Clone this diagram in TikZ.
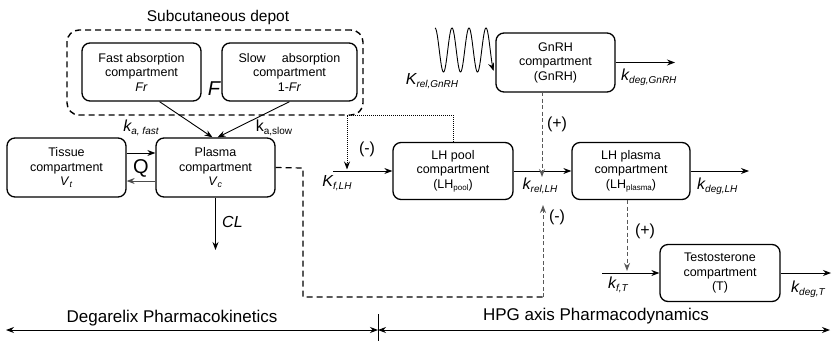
\documentclass[tikz,border=0pt]{standalone}
\usepackage{fontspec}
\setmainfont{Liberation Sans}
\usetikzlibrary{arrows.meta,calc}
\newcommand\klab[3][16]{{\fontsize{#1}{#1}\selectfont\itshape #2}\raisebox{-3pt}{\fontsize{10}{10}\selectfont\itshape #3}}
\begin{document}
\begin{tikzpicture}[x=1pt,y=-1pt,
  box/.style={draw, rounded corners=8pt, line width=1.3pt, align=center, inner sep=0pt,
    font=\fontsize{12.5}{14.5}\selectfont, minimum width=119pt, minimum height=58pt},
  arr/.style={-{Stealth[length=8pt,width=6pt]}, line width=0.9pt},
  dbl/.style={{Stealth[length=8pt,width=6pt]}-{Stealth[length=8pt,width=6pt]}, line width=0.9pt},
  lab/.style={inner sep=0pt},
  big/.style={inner sep=0pt, font=\fontsize{16}{16}\selectfont},
  title/.style={inner sep=0pt, font=\fontsize{17}{17}\selectfont},
  gdash/.style={draw=black!65, line width=1pt, dash pattern=on 4pt off 2.5pt},
  kdash/.style={line width=1.4pt, dash pattern=on 6pt off 4pt},
  dots/.style={line width=1pt, dash pattern=on 1pt off 1pt}
]
\useasboundingbox (0,0) rectangle (832,341);

% Subcutaneous depot
\node[draw, kdash, rounded corners=12pt, minimum width=296pt, minimum height=85pt, inner sep=0pt] (depot) at (215,72.5) {};
\node[inner sep=0pt, font=\fontsize{15.5}{15.5}\selectfont] (deptitle) at (218,17) {Subcutaneous depot};
\node[box] (fast) at (141.5,72) {Fast absorption\\compartment\\\textit{Fr}};
\node[box, minimum width=135pt] (slow) at (289.5,72) {Slow\hspace{1.3em}absorption\\compartment\\1-\textit{Fr}};
\node[inner sep=0pt, font=\fontsize{20}{20}\selectfont\itshape] (F) at (214,89) {F};

% PK compartments
\node[box, minimum height=59pt] (plasma) at (215.5,167.5) {Plasma\\compartment\\\textit{V}\textsubscript{\textit{c}}};
\node[box, minimum height=59pt] (tissue) at (66.5,167.5) {Tissue\\compartment\\\textit{V}\textsubscript{\textit{t}}};

\draw[arr] ($(fast.south)+(18,0)$) -- ($(plasma.north)+(-3,0)$);
\draw[arr] (slow.south) -- ($(plasma.north)+(2,0)$);
\node[lab] (kafast) at (141,128) {\klab{k}{a, fast}};
\node[lab] (kaslow) at (274,128) {{\fontsize{16}{16}\selectfont k}\raisebox{-3pt}{\fontsize{10}{10}\selectfont a,slow}};

\draw[arr] ($(tissue.east)+(0,-14.5)$) -- ($(plasma.west)+(0,-14.5)$);
\draw[arr, draw=black!70] ($(plasma.west)+(0,13.5)$) -- ($(tissue.east)+(0,13.5)$);
\node[inner sep=0pt, font=\fontsize{20}{20}\selectfont] (Q) at (141,168) {Q};

\coordinate (clend) at (215.5,250);
\draw[arr] (plasma.south) -- (clend);
\node[big, anchor=west, font=\fontsize{16}{16}\selectfont\itshape] (CL) at (222,222) {CL};

% GnRH
\node[box, minimum height=59pt] (gnrh) at (555.5,62.5) {GnRH\\compartment\\(GnRH)};
\draw[arr] plot[domain=0:3.45, samples=140, smooth] ({435+17*\x}, {50-22*cos(\x*360)});
\node[lab] (krelg) at (432,81) {\klab{K}{rel,GnRH}};
\coordinate (kdgend) at (675,62.5);
\draw[arr] (gnrh.east) -- (kdgend);
\node[lab, anchor=west] (kdegg) at (621,77) {\klab{k}{deg,GnRH}};

% LH row
\node[box, minimum width=120pt, minimum height=57pt] (pool) at (453,171) {LH pool\\compartment\\(LH{\fontsize{8}{8}\selectfont\raisebox{-2pt}{pool}})};
\node[box, minimum width=118pt, minimum height=57pt] (lhp) at (631,171) {LH plasma\\compartment\\(LH{\fontsize{8}{8}\selectfont\raisebox{-2pt}{plasma}})};
\coordinate (kfstart) at (333,171);
\draw[arr] (kfstart) -- (pool);
\node[lab] (kflh) at (337,183) {\klab{K}{f,LH}};
\draw[arr] (pool) -- (lhp);
\node[lab] (krellh) at (540,186) {\klab{k}{rel,LH}};
\coordinate (kdlend) at (749,171);
\draw[arr] (lhp.east) -- (kdlend);
\node[lab, anchor=west] (kdeglh) at (697,186) {\klab{k}{deg,LH}};

% feedback dotted
\coordinate (dtop) at (347,115);
\coordinate (dtip) at (347,169.5);
\draw[dots, -{Stealth[length=8pt,width=6pt]}] (pool.north) |- (dtop) -- (dtip);
\node[big] (m1) at (367,149) {(-)};

% GnRH (+) to k_rel
\coordinate (g1) at (542,92);
\coordinate (g2) at (542,177);
\draw[gdash, -{Stealth[length=8pt,width=6pt]}] (g1) -- (g2);
\node[big] (p1) at (557,124) {(+)};

% plasma dashed (-) to k_rel
\coordinate (pd1) at (303,168);
\coordinate (pd2) at (303,297);
\coordinate (pd3) at (543,297);
\coordinate (pd4) at (543,205);
\draw[kdash, line width=1.2pt] (plasma.east) -- (pd1) -- (pd2) -- (pd3);
\draw[gdash, -{Stealth[length=8pt,width=6pt]}] (pd3) -- (pd4);
\node[big] (m2) at (557,217) {(-)};

% Testosterone
\node[box, minimum width=120pt, minimum height=57pt] (testo) at (720,273) {Testosterone\\compartment\\(T)};
\coordinate (kftstart) at (602,273);
\draw[arr] (kftstart) -- (testo);
\node[lab] (kft) at (618,285) {\klab{k}{f,T}};
\coordinate (kdtend) at (831,273);
\draw[arr] (testo.east) -- (kdtend);
\node[lab] (kdegt) at (808,289) {\klab{k}{deg,T}};
\coordinate (lp1) at (627,200);
\coordinate (lp2) at (627,271);
\draw[gdash, -{Stealth[length=8pt,width=6pt]}] (lp1) -- (lp2);
\node[big] (p2) at (645,231) {(+)};

% bottom axis
\coordinate (axl) at (6,330);
\coordinate (axm) at (378,330);
\coordinate (axr) at (830,330);
\coordinate (tk1) at (378,314);
\coordinate (tk2) at (378,341);
\draw[dbl] (axl) -- (axm);
\draw[dbl] (axm) -- (axr);
\draw[line width=0.9pt] (tk1) -- (tk2);
\node[title] (pk) at (172,318) {Degarelix Pharmacokinetics};
\node[title] (pd) at (596,316) {HPG axis Pharmacodynamics};
\end{tikzpicture}
\end{document}
